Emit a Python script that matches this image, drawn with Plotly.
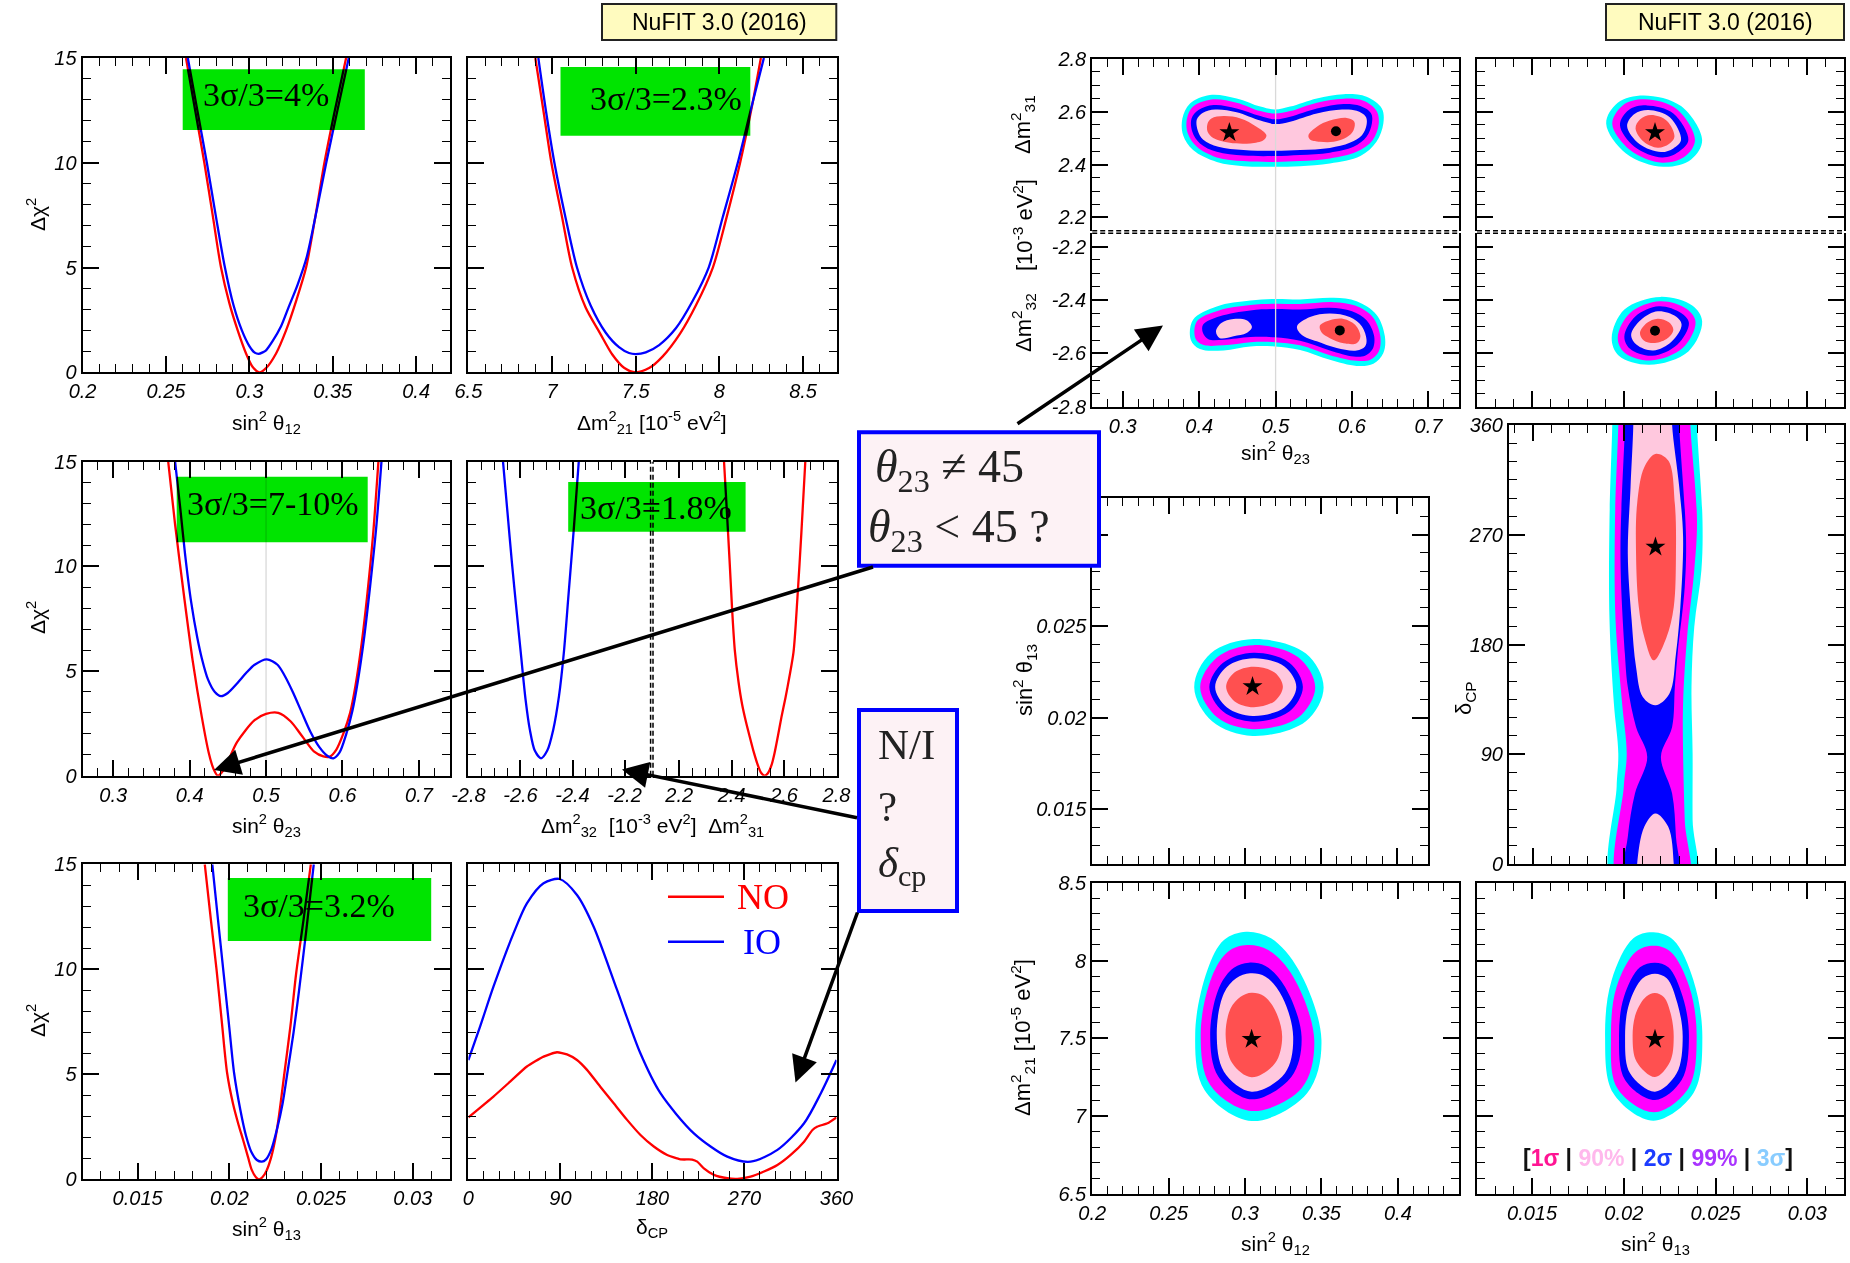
import plotly.graph_objects as go

W, H = 1850, 1263

# ---------------- 1-D chi^2 profiles (NO = red, IO = blue) ----------------
s12_no_x = [0.262,0.2675,0.273,0.278,0.283,0.288,0.293,0.298,0.302,0.306,0.310,0.316,0.322,0.328,0.334,0.3395,0.345,0.351,0.358]
s12_no_y = [15,12.5,10,7.5,5,3.3,2,0.9,0.25,0,0.2,0.9,2,3.4,5,7.4,10,12.4,15]
s12_io_x = [0.2631,0.2688,0.2745,0.2798,0.2851,0.2905,0.2955,0.300,0.303,0.3055,0.308,0.310,0.314,0.319,0.3235,0.329,0.3344,0.3403,0.3461,0.3528,0.3596]
s12_io_y = [15,12.5,10,7.5,5.1,3.2,2.0,1.25,0.95,0.88,0.95,1.05,1.5,2.2,3.1,4.2,5.5,7.7,10,12.5,15]

dm21_no_x = [6.90,6.95,6.996,7.06,7.12,7.20,7.287,7.36,7.43,7.50,7.58,7.66,7.766,7.86,7.961,8.04,8.124,8.19,8.248]
dm21_no_y = [15,12.4,10,7.4,5,3.1,1.86,0.85,0.22,0,0.2,0.75,1.86,3.2,5,7.3,10,12.5,15]
dm21_io_x = [6.918,6.965,7.014,7.08,7.149,7.23,7.32,7.40,7.46,7.50,7.56,7.64,7.74,7.84,7.936,8.02,8.110,8.19,8.266]
dm21_io_y = [15,12.4,10,7.4,5,3.2,1.9,1.2,0.92,0.87,0.95,1.3,2.1,3.4,5,7.4,10,12.6,15]

s23_no_x = [0.372,0.381,0.393,0.404,0.416,0.425,0.431,0.437,0.444,0.451,0.462,0.485,0.500,0.516,0.532,0.547,0.563,0.575,0.583,0.592,0.601,0.610,0.617,0.625,0.632,0.640,0.647]
s23_no_y = [15,12,8.5,5.5,2.8,1.1,0.35,0,0.25,0.75,1.6,2.65,2.95,3.0,2.6,1.9,1.15,0.92,0.9,1.25,2.0,3.0,4.3,6.3,8.5,11.5,15]
s23_io_x = [0.381,0.388,0.394,0.402,0.410,0.416,0.424,0.433,0.441,0.450,0.462,0.475,0.485,0.501,0.515,0.524,0.535,0.547,0.558,0.570,0.580,0.588,0.596,0.605,0.613,0.620,0.628,0.636,0.644,0.651]
s23_io_y = [15,12.7,10.6,8.3,6.6,5.6,4.6,4.0,3.8,3.95,4.4,4.95,5.3,5.56,5.3,4.8,4.0,3.0,2.1,1.35,0.95,0.83,1.1,2.0,3.1,4.5,6.5,9,11.8,15]

dm32_io_x = [-2.667,-2.65,-2.633,-2.615,-2.5985,-2.58,-2.564,-2.545,-2.521,-2.497,-2.474,-2.452,-2.4336,-2.415,-2.395,-2.376]
dm32_io_y = [15,12.6,10.2,7.9,5.84,3.6,2.2,1.2,0.83,1.2,2.2,3.8,5.84,8.7,11.8,15]
dm31_no_x = [2.371,2.381,2.392,2.402,2.412,2.426,2.44,2.455,2.469,2.485,2.50,2.513,2.526,2.539,2.552,2.564,2.576,2.59,2.605,2.62,2.636,2.651,2.666,2.681]
dm31_no_y = [15,12.8,10.3,7.9,6.0,4.5,3.4,2.55,1.86,1.1,0.5,0.13,0,0.13,0.5,1.1,1.86,2.8,3.7,4.7,5.9,8.5,11.6,15]

s13_no_x = [0.01866,0.0190,0.0193,0.0196,0.01988,0.0202,0.0205,0.02075,0.02101,0.02122,0.02145,0.02161,0.02180,0.02202,0.02229,0.02250,0.0227,0.0230,0.02333,0.02364,0.02405,0.02444]
s13_no_y = [15,12.3,10.0,7.4,5.05,3.6,2.6,1.87,1.08,0.45,0.1,0,0.1,0.4,1.08,1.9,3.0,5.05,7.3,9.8,12.4,15]
s13_io_x = [0.01907,0.0194,0.0197,0.0200,0.02026,0.0206,0.0209,0.0212,0.0215,0.02177,0.0220,0.0223,0.0226,0.0229,0.02316,0.0235,0.0238,0.0242,0.0246]
s13_io_y = [15,12.2,9.7,7.2,5.05,3.3,2.1,1.3,0.92,0.84,0.95,1.45,2.4,3.6,5.05,7.0,9.0,11.9,15]

dcp_no_x = [0,24.5,40.8,57.2,73.5,86.6,96.4,106.2,116,129,142.1,155.2,168.3,181.3,194.4,207.4,218.9,223.8,230.3,240.1,253.2,263,276,289.1,302.2,315.2,328.3,336.5,341.4,351.2,360]
dcp_no_y = [2.95,3.94,4.65,5.37,5.84,6.05,5.95,5.68,5.21,4.41,3.62,2.83,2.11,1.56,1.16,0.95,0.94,0.84,0.52,0.21,0.05,0.02,0.13,0.37,0.68,1.16,1.79,2.35,2.51,2.67,2.95]
dcp_io_x = [0,11.4,24.5,44.1,57.2,73.5,89.2,106.2,122.5,145.4,168.2,187.8,220.5,253.2,276,302.2,328.3,344.7,360]
dcp_io_y = [5.68,7.27,9.17,11.71,13.14,14.1,14.3,13.54,12.03,9.02,6.0,4.1,2.19,1.08,0.84,1.4,2.67,4.1,5.68]

# ---------------- 2-D allowed regions (outline points, outer -> inner) ----------------
# sin^2 th23 vs dm31 (NO)
t23no_3s = ([0.378,0.388,0.414,0.449,0.480,0.499,0.519,0.554,0.589,0.619,0.639,0.641,0.632,0.611,0.571,0.532,0.499,0.458,0.423,0.392,0.379],
            [2.574,2.631,2.663,2.650,2.619,2.608,2.619,2.650,2.666,2.656,2.612,2.555,2.486,2.432,2.404,2.394,2.392,2.394,2.410,2.455,2.511])
t23no_99 = ([0.384,0.392,0.416,0.449,0.480,0.499,0.519,0.554,0.589,0.615,0.632,0.635,0.627,0.606,0.571,0.532,0.499,0.458,0.423,0.397,0.385],
            [2.574,2.619,2.646,2.634,2.602,2.593,2.602,2.634,2.649,2.641,2.603,2.555,2.492,2.448,2.423,2.413,2.410,2.413,2.427,2.467,2.518])
t23no_2s = ([0.390,0.399,0.419,0.449,0.480,0.499,0.519,0.554,0.589,0.611,0.625,0.626,0.619,0.602,0.571,0.532,0.499,0.458,0.423,0.401,0.391],
            [2.574,2.606,2.625,2.612,2.583,2.571,2.581,2.612,2.629,2.621,2.593,2.555,2.505,2.467,2.445,2.436,2.432,2.434,2.448,2.480,2.524])
t23no_90 = ([0.397,0.405,0.421,0.449,0.480,0.499,0.519,0.554,0.587,0.606,0.618,0.619,0.613,0.597,0.571,0.532,0.499,0.458,0.425,0.405,0.398],
            [2.571,2.596,2.608,2.598,2.566,2.553,2.562,2.593,2.608,2.603,2.581,2.549,2.511,2.482,2.463,2.455,2.452,2.455,2.467,2.495,2.530])
t23no_1sa = ([0.411,0.416,0.432,0.454,0.475,0.488,0.484,0.467,0.440,0.419,0.411],
             [2.555,2.574,2.583,2.574,2.543,2.511,2.492,2.480,2.482,2.499,2.524])
t23no_1sb = ([0.543,0.554,0.571,0.593,0.603,0.602,0.593,0.576,0.558,0.545],
             [2.511,2.543,2.566,2.576,2.562,2.530,2.503,2.486,2.486,2.495])
# sin^2 th23 vs dm32 (IO)
t23io_3s = ([0.389,0.392,0.423,0.467,0.499,0.532,0.576,0.606,0.632,0.643,0.641,0.628,0.606,0.571,0.532,0.499,0.467,0.432,0.401],
            [-2.549,-2.474,-2.424,-2.402,-2.396,-2.398,-2.392,-2.405,-2.455,-2.536,-2.599,-2.639,-2.647,-2.624,-2.587,-2.574,-2.574,-2.589,-2.584])
t23io_99 = ([0.395,0.397,0.425,0.467,0.499,0.532,0.576,0.604,0.627,0.637,0.635,0.624,0.606,0.571,0.532,0.499,0.467,0.432,0.405],
            [-2.543,-2.480,-2.440,-2.419,-2.414,-2.415,-2.408,-2.421,-2.464,-2.536,-2.593,-2.624,-2.628,-2.607,-2.570,-2.558,-2.558,-2.570,-2.568])
t23io_2s = ([0.405,0.405,0.427,0.467,0.499,0.532,0.571,0.600,0.619,0.629,0.627,0.617,0.602,0.571,0.532,0.499,0.467,0.432,0.412],
            [-2.524,-2.493,-2.461,-2.439,-2.434,-2.436,-2.429,-2.442,-2.476,-2.536,-2.584,-2.609,-2.612,-2.589,-2.553,-2.540,-2.539,-2.549,-2.547])
t23io_90a = ([0.422,0.429,0.445,0.462,0.469,0.462,0.445,0.427],
             [-2.518,-2.486,-2.471,-2.476,-2.501,-2.524,-2.536,-2.543])
t23io_90b = ([0.528,0.545,0.571,0.597,0.613,0.619,0.617,0.606,0.580,0.554,0.534],
             [-2.499,-2.464,-2.451,-2.464,-2.499,-2.549,-2.574,-2.589,-2.580,-2.555,-2.530])
t23io_1s = ([0.558,0.571,0.589,0.604,0.611,0.606,0.589,0.571,0.560],
            [-2.496,-2.476,-2.471,-2.493,-2.536,-2.562,-2.562,-2.543,-2.521])
# sin^2 th13 vs dm31 (NO)
t13no_3s = ([0.01904,0.01967,0.02109,0.02312,0.02427,0.02367,0.02215,0.02012], [2.5554,2.6337,2.6614,2.6210,2.4924,2.4193,2.3915,2.4420])
t13no_99 = ([0.01937,0.01994,0.02115,0.02291,0.02388,0.02336,0.02209,0.02034], [2.5529,2.6236,2.6463,2.6084,2.4924,2.4319,2.4066,2.4546])
t13no_2s = ([0.01979,0.02027,0.02125,0.02270,0.02352,0.02300,0.02209,0.02058], [2.5491,2.6059,2.6236,2.5933,2.4924,2.4483,2.4268,2.4672])
t13no_90 = ([0.02018,0.02058,0.02134,0.02252,0.02312,0.02270,0.02203,0.02085], [2.5454,2.5908,2.6059,2.5782,2.4924,2.4609,2.4470,2.4773])
t13no_1s = ([0.02064,0.02088,0.02149,0.02234,0.02276,0.02246,0.02185,0.02109], [2.5365,2.5706,2.5870,2.5656,2.5050,2.4773,2.4634,2.4861])
# sin^2 th13 vs dm32 (IO)
t13io_3s = ([0.01934,0.02003,0.02200,0.02373,0.02427,0.02352,0.02140,0.01973], [-2.5427,-2.4360,-2.3884,-2.4210,-2.4799,-2.5929,-2.6430,-2.6092])
t13io_99 = ([0.01967,0.02034,0.02197,0.02343,0.02391,0.02321,0.02146,0.02003], [-2.5402,-2.4486,-2.4047,-2.4335,-2.4824,-2.5803,-2.6267,-2.5966])
t13io_2s = ([0.02003,0.02064,0.02191,0.02312,0.02355,0.02291,0.02155,0.02034], [-2.5364,-2.4611,-2.4235,-2.4486,-2.4862,-2.5678,-2.6092,-2.5828])
t13io_90 = ([0.02040,0.02094,0.02185,0.02282,0.02315,0.02261,0.02161,0.02070], [-2.5301,-2.4737,-2.4423,-2.4611,-2.4925,-2.5552,-2.5891,-2.5678])
t13io_1s = ([0.02088,0.02125,0.02185,0.02246,0.02270,0.02240,0.02170,0.02109], [-2.5238,-2.4862,-2.4699,-2.4837,-2.5113,-2.5427,-2.5615,-2.5515])
# sin^2 th12 vs sin^2 th13
t12t13_3s = ([0.2668,0.2775,0.3057,0.3400,0.3516,0.3400,0.3050,0.2785], [0.02165,0.0235,0.02429,0.0235,0.02165,0.0198,0.0190,0.0198])
t12t13_99 = ([0.2707,0.2818,0.3057,0.3350,0.3461,0.3350,0.3052,0.2820], [0.02166,0.0233,0.02396,0.0233,0.02166,0.0200,0.01937,0.0200])
t12t13_2s = ([0.2767,0.2857,0.3057,0.3291,0.3380,0.3291,0.3052,0.2857], [0.02167,0.0230,0.02355,0.0230,0.02167,0.02033,0.01978,0.02033])
t12t13_90 = ([0.2805,0.2883,0.3057,0.3259,0.3337,0.3259,0.3052,0.2883], [0.02167,0.02279,0.02324,0.02279,0.02167,0.02055,0.02009,0.02055])
t12t13_1s = ([0.2877,0.2931,0.3057,0.3195,0.3249,0.3195,0.3055,0.2931], [0.02168,0.02246,0.02278,0.02246,0.02168,0.0209,0.02057,0.0209])
# sin^2 th13 vs delta_CP
cp_3s = ([0.01943,0.01958,0.01967,0.01943,0.01919,0.01919,0.01934,0.01934,0.02397,0.02397,0.02427,0.02421,0.02382,0.02367,0.02373,0.02373,0.02382],
         [-20,63.3,90.6,131.6,199.8,281.7,360,380,380,360,281.7,240.8,194.3,145.2,90.6,36,-20])
cp_99 = ([0.01973,0.01997,0.02013,0.01988,0.01952,0.01949,0.01967,0.01967,0.02361,0.02361,0.02397,0.02382,0.02343,0.02321,0.02321,0.02330,0.02343],
         [-20,63.3,90.6,131.6,199.8,281.7,360,380,380,360,281.7,240.8,186.2,131.6,90.6,36,-20])
cp_2s = ([0.02003,0.02019,0.02058,0.02125,0.02064,0.02019,0.02003,0.01979,0.02003,0.02003,0.02300,0.02300,0.02337,0.02330,0.02291,0.02276,0.02261,0.02200,0.02261,0.02282,0.02291],
         [-20,22.4,57.8,87.9,112.4,145.2,172.5,254.4,360,380,380,360,268.1,227.1,172.5,145.2,112.4,87.9,57.8,22.4,-20])
cp_90a = ([0.02170,0.02101,0.02064,0.02040,0.02019,0.02034,0.02049,0.02049,0.02261,0.02261,0.02300,0.02321,0.02306,0.02282,0.02246],
          [130.2,137,161.6,199.8,254.4,309,360,380,380,360,309,268.1,210.7,172.5,139.7])
cp_90b = ([0.02170,0.02240,0.02270,0.02270,0.02070,0.02070,0.02109], [41.5,30.5,0,-20,-20,0,30.5])
cp_1s = ([0.02161,0.02109,0.02079,0.02064,0.02070,0.02109,0.02170,0.02240,0.02276,0.02282,0.02270,0.02231],
         [167.0,186.2,210.7,254.4,295.4,325.4,336.3,330.8,295.4,254.4,210.7,186.2])
# sin^2 th12 vs dm21
t12m21_3s = ([0.2674,0.2754,0.2862,0.3007,0.3170,0.3351,0.3500,0.3406,0.3043,0.2735], [7.5321,7.9390,8.1317,8.1852,8.1424,7.9390,7.4893,7.1467,6.9690,7.1681])
t12m21_99 = ([0.2710,0.2783,0.2888,0.3014,0.3152,0.3315,0.3453,0.3370,0.3043,0.2772], [7.5321,7.8962,8.0567,8.0996,8.0675,7.8962,7.4893,7.1788,7.0332,7.2003])
t12m21_2s = ([0.2772,0.2833,0.2927,0.3025,0.3134,0.3261,0.3370,0.3304,0.3043,0.2826], [7.5321,7.8319,7.9540,7.9861,7.9647,7.8319,7.5107,7.2538,7.1082,7.2538])
t12m21_90 = ([0.2815,0.2862,0.2942,0.3033,0.3134,0.3243,0.3315,0.3261,0.3043,0.2862], [7.5321,7.7891,7.8854,7.9176,7.8962,7.7677,7.5107,7.2752,7.1574,7.2859])
t12m21_1s = ([0.2873,0.2906,0.2971,0.3043,0.3123,0.3196,0.3243,0.3196,0.3043,0.2917], [7.5214,7.6927,7.7677,7.7934,7.7720,7.6820,7.5107,7.3394,7.2495,7.3394])
# sin^2 th13 vs dm21
t13m21_3s = ([0.01898,0.01934,0.02052,0.02161,0.02270,0.02379,0.02428,0.02379,0.02161,0.01943], [7.5108,7.8748,8.1425,8.1811,8.1318,7.8748,7.5108,7.1467,6.9711,7.1467])
t13m21_99 = ([0.01930,0.01961,0.02066,0.02165,0.02255,0.02357,0.02397,0.02352,0.02165,0.01965], [7.5108,7.8320,8.0569,8.0954,8.0569,7.8320,7.5108,7.1788,7.0246,7.1788])
t13m21_2s = ([0.01974,0.02001,0.02088,0.02170,0.02243,0.02321,0.02355,0.02315,0.02170,0.02007], [7.5108,7.7677,7.9562,7.9862,7.9562,7.7677,7.5108,7.2324,7.1039,7.2324])
t13m21_90 = ([0.02007,0.02030,0.02103,0.02170,0.02234,0.02292,0.02321,0.02288,0.02170,0.02034], [7.5108,7.7249,7.8855,7.9155,7.8855,7.7249,7.5108,7.2752,7.1574,7.2752])
t13m21_1s = ([0.02048,0.02066,0.02121,0.02170,0.02219,0.02255,0.02272,0.02252,0.02170,0.02070], [7.5108,7.6607,7.7677,7.7913,7.7635,7.6607,7.5108,7.3501,7.2516,7.3501])

# best-fit points
bf_star = {"t23no": (0.4395, 2.521), "t13no": (0.0217, 2.5215), "t12t13": (0.305, 0.0217),
           "cp": (0.0217, 260), "t12m21": (0.3043, 7.494), "t13m21": (0.0217, 7.494)}
bf_dot = {"t23io": (0.584, -2.514), "t23no": (0.579, 2.526), "t13io": (0.0217, -2.515)}

# ---------------- tick values / labels ----------------
tk_chi = [0, 5, 10, 15]
tk_s12 = [0.2, 0.25, 0.3, 0.35, 0.4]
tk_m21 = [6.5, 7, 7.5, 8, 8.5]
tk_s23 = [0.3, 0.4, 0.5, 0.6, 0.7]
tk_m32 = [-2.8, -2.6, -2.4, -2.2]
tk_m31 = [2.2, 2.4, 2.6, 2.8]
tk_s13 = [0.015, 0.02, 0.025, 0.03]
tk_cp = [0, 90, 180, 270, 360]
lbl = lambda v: [("%g" % t) for t in v]

# ---------------- colours ----------------
C3S, C99, C2S, C90, C1S = "#00ffff", "#ff00ff", "#0000ff", "#ffc8de", "#ff5050"
RED, BLUE = "#ff0000", "#0000ff"
GREEN = "#00e400"
SANS = "Liberation Sans, Arial, Helvetica, sans-serif"
SERIF = "Liberation Serif, Times New Roman, serif"

def xp(X):
    return X / W

def yp(Y):
    return 1 - Y / H

fig = go.Figure()
axes_layout = {}
counter = [0]

def make_axes(X0, X1, Y0, Y1, xr, yr, xtv, xmn, ytv, ymn, xlab, ylab, xmode="both", ymode="both"):
    counter[0] += 1
    i = counter[0]
    sfx = "" if i == 1 else str(i)
    common = dict(ticks="inside", ticklen=16, tickwidth=1.8, tickcolor="black", showline=True,
                  linewidth=2, linecolor="black", showgrid=False, zeroline=False, automargin=False,
                  tickfont=dict(family=SANS, size=20, color="black", style="italic"),
                  tickmode="array")
    mn = dict(ticks="inside", ticklen=8, tickwidth=1.3, tickcolor="black", showgrid=False, tickmode="linear", tick0=0)
    xa = dict(common, domain=[xp(X0), xp(X1)], range=xr, anchor="y" + sfx, showticklabels=xlab,
              tickvals=xtv, ticktext=lbl(xtv), minor=dict(mn, dtick=xmn))
    if xmode == "both":
        xa.update(mirror="ticks", side="bottom")
    elif xmode == "top":
        xa.update(mirror=False, side="top")
    else:
        xa.update(mirror=False, side="bottom")
    ya = dict(common, domain=[yp(Y1), yp(Y0)], range=yr, anchor="x" + sfx, showticklabels=ylab,
              tickvals=ytv, ticktext=lbl(ytv), minor=dict(mn, dtick=ymn))
    if ymode == "both":
        ya.update(mirror="ticks", side="left")
    elif ymode == "left":
        ya.update(mirror=False, side="left")
    else:
        ya.update(mirror=False, side="right")
    axes_layout["xaxis" + sfx] = xa
    axes_layout["yaxis" + sfx] = ya
    return ("x" + sfx, "y" + sfx)

def curve(ax, x, y, color, sm=0.8):
    fig.add_trace(go.Scatter(x=x, y=y, xaxis=ax[0], yaxis=ax[1], mode="lines",
                             line=dict(color=color, width=2.3, shape="spline", smoothing=sm),
                             hoverinfo="skip", showlegend=False))

def region(ax, reg, color):
    xs, ys = reg
    fig.add_trace(go.Scatter(x=list(xs) + [xs[0]], y=list(ys) + [ys[0]], xaxis=ax[0], yaxis=ax[1],
                             mode="lines", fill="toself", fillcolor=color,
                             line=dict(width=0, color=color, shape="spline", smoothing=1.0),
                             hoverinfo="skip", showlegend=False))

def marker(ax, pt, sym, size):
    fig.add_trace(go.Scatter(x=[pt[0]], y=[pt[1]], xaxis=ax[0], yaxis=ax[1], mode="markers",
                             marker=dict(symbol=sym, size=size, color="black"),
                             hoverinfo="skip", showlegend=False))

def vline(ax, x, y0, y1):
    fig.add_trace(go.Scatter(x=[x, x], y=[y0, y1], xaxis=ax[0], yaxis=ax[1], mode="lines",
                             line=dict(color="#d9d9d9", width=1.3), hoverinfo="skip", showlegend=False))

shapes = []
annots = []

def box(X0, Y0, X1, Y1, fill, lc=None, lw=0, layer="above"):
    shapes.append(dict(type="rect", xref="paper", yref="paper", x0=xp(X0), x1=xp(X1), y0=yp(Y1), y1=yp(Y0),
                       fillcolor=fill, line=dict(color=lc or fill, width=lw), layer=layer))

def text(X, Y, t, size=21, family=SANS, color="black", angle=0, xanchor="center", yanchor="middle"):
    annots.append(dict(xref="paper", yref="paper", x=xp(X), y=yp(Y), text=t, showarrow=False,
                       textangle=angle, xanchor=xanchor, yanchor=yanchor,
                       font=dict(family=family, size=size, color=color)))

# ---------------- green boxes (blended over the curves) ----------------
for (X0, Y0, X1, Y1) in [(182.7, 69.3, 364.8, 130), (560.5, 67, 750.3, 135.7), (176.7, 476.7, 367.7, 542.3),
                         (568.2, 482, 745.6, 531.7), (227.8, 878, 431.2, 941)]:
    box(X0, Y0, X1, Y1, GREEN, layer="above")

# ---------------- left column: 1-D profiles ----------------
axA = make_axes(82.6, 449.5, 58, 372.3, [0.2, 0.42], [0, 15], tk_s12, 0.01, tk_chi, 1, True, True)
curve(axA, s12_no_x, s12_no_y, RED); curve(axA, s12_io_x, s12_io_y, BLUE)

axB = make_axes(468.4, 836.5, 58, 372.3, [6.5, 8.7], [0, 15], tk_m21, 0.1, tk_chi, 1, True, False)
curve(axB, dm21_no_x, dm21_no_y, RED); curve(axB, dm21_io_x, dm21_io_y, BLUE)

axC = make_axes(82.6, 449.5, 461.7, 775.7, [0.26, 0.74], [0, 15], tk_s23, 0.02, tk_chi, 1, True, True)
vline(axC, 0.5, 0, 15)
curve(axC, s23_no_x, s23_no_y, RED); curve(axC, s23_io_x, s23_io_y, BLUE)

axDl = make_axes(468.4, 650.6, 461.7, 775.7, [-2.8, -2.1], [0, 15], tk_m32, 0.05, tk_chi, 1, True, False, "both", "left")
curve(axDl, dm32_io_x, dm32_io_y, BLUE)
axDr = make_axes(653.0, 836.5, 461.7, 775.7, [2.1, 2.8], [0, 15], tk_m31, 0.05, tk_chi, 1, True, False, "both", "right")
curve(axDr, dm31_no_x, dm31_no_y, RED)

axE = make_axes(82.6, 449.5, 864.3, 1179.3, [0.012, 0.032], [0, 15], tk_s13, 0.001, tk_chi, 1, True, True)
curve(axE, s13_no_x, s13_no_y, RED); curve(axE, s13_io_x, s13_io_y, BLUE)

axF = make_axes(468.4, 836.5, 864.3, 1179.3, [0, 360], [0, 15], tk_cp, 15, tk_chi, 1, True, False)
curve(axF, dcp_no_x, dcp_no_y, RED, 0.5); curve(axF, dcp_io_x, dcp_io_y, BLUE)

# ---------------- right block: 2-D regions ----------------
axTLu = make_axes(1092.2, 1459, 58.7, 230.7, [0.26, 0.74], [2.15, 2.8], tk_s23, 0.02, tk_m31, 0.05, False, True, "top", "both")
for reg, c in [(t23no_3s, C3S), (t23no_99, C99), (t23no_2s, C2S), (t23no_90, C90), (t23no_1sa, C1S), (t23no_1sb, C1S)]:
    region(axTLu, reg, c)
vline(axTLu, 0.5, 2.15, 2.8)
marker(axTLu, bf_star["t23no"], "star", 15); marker(axTLu, bf_dot["t23no"], "circle", 10)

axTLl = make_axes(1092.2, 1459, 233.3, 406.7, [0.26, 0.74], [-2.8, -2.15], tk_s23, 0.02, tk_m32, 0.05, True, True, "bottom", "both")
for reg, c in [(t23io_3s, C3S), (t23io_99, C99), (t23io_2s, C2S), (t23io_90a, C90), (t23io_90b, C90), (t23io_1s, C1S)]:
    region(axTLl, reg, c)
vline(axTLl, 0.5, -2.8, -2.15)
marker(axTLl, bf_dot["t23io"], "circle", 10)

axTRu = make_axes(1477, 1844, 58.7, 230.7, [0.012, 0.032], [2.15, 2.8], tk_s13, 0.001, tk_m31, 0.05, False, False, "top", "both")
for reg, c in [(t13no_3s, C3S), (t13no_99, C99), (t13no_2s, C2S), (t13no_90, C90), (t13no_1s, C1S)]:
    region(axTRu, reg, c)
marker(axTRu, bf_star["t13no"], "star", 15)

axTRl = make_axes(1477, 1844, 233.3, 406.7, [0.012, 0.032], [-2.8, -2.15], tk_s13, 0.001, tk_m32, 0.05, False, False, "bottom", "both")
for reg, c in [(t13io_3s, C3S), (t13io_99, C99), (t13io_2s, C2S), (t13io_90, C90), (t13io_1s, C1S)]:
    region(axTRl, reg, c)
marker(axTRl, bf_dot["t13io"], "circle", 10)

axM = make_axes(1092.3, 1428, 498, 864, [0.2, 0.42], [0.012, 0.032], tk_s12, 0.01, tk_s13, 0.001, False, True)
for reg, c in [(t12t13_3s, C3S), (t12t13_99, C99), (t12t13_2s, C2S), (t12t13_90, C90), (t12t13_1s, C1S)]:
    region(axM, reg, c)
marker(axM, bf_star["t12t13"], "star", 15)

axCP = make_axes(1509, 1844, 425, 864, [0.0137, 0.032], [0, 360], tk_s13, 0.001, tk_cp, 15, False, True)
for reg, c in [(cp_3s, C3S), (cp_99, C99), (cp_2s, C2S), (cp_90a, C90), (cp_90b, C90), (cp_1s, C1S)]:
    region(axCP, reg, c)
marker(axCP, bf_star["cp"], "star", 15)

axBL = make_axes(1092.2, 1459, 882.7, 1194, [0.2, 0.44], [6.5, 8.5], tk_s12, 0.01, tk_m21, 0.1, True, True)
for reg, c in [(t12m21_3s, C3S), (t12m21_99, C99), (t12m21_2s, C2S), (t12m21_90, C90), (t12m21_1s, C1S)]:
    region(axBL, reg, c)
marker(axBL, bf_star["t12m21"], "star", 15)

axBR = make_axes(1477, 1844, 882.7, 1194, [0.012, 0.032], [6.5, 8.5], tk_s13, 0.001, tk_m21, 0.1, True, False)
for reg, c in [(t13m21_3s, C3S), (t13m21_99, C99), (t13m21_2s, C2S), (t13m21_90, C90), (t13m21_1s, C1S)]:
    region(axBR, reg, c)
marker(axBR, bf_star["t13m21"], "star", 15)

# ---------------- dashed split lines ----------------
for X in (650.6, 653.0):
    shapes.append(dict(type="line", xref="paper", yref="paper", x0=xp(X), x1=xp(X), y0=yp(775.7), y1=yp(461.7),
                       line=dict(color="black", width=1.5, dash="5px,3px"), layer="above"))
for (X0, X1) in [(1092.2, 1459), (1477, 1844)]:
    for Y in (230.7, 233.3):
        shapes.append(dict(type="line", xref="paper", yref="paper", x0=xp(X0), x1=xp(X1), y0=yp(Y), y1=yp(Y),
                           line=dict(color="black", width=1.5, dash="5px,3px"), layer="above"))

# ---------------- green-box texts ----------------
for (X, Y, t) in [(265.7, 95, "3σ/3=4%"), (665.7, 98, "3σ/3=2.3%"), (273, 503, "3σ/3=7-10%"),
                  (656, 508, "3σ/3=1.8%"), (318.6, 906, "3σ/3=3.2%")]:
    text(X, Y, t, size=34, family=SERIF)

# ---------------- NuFIT labels ----------------
for (X0, X1) in [(602, 836.3), (1606, 1844)]:
    box(X0, 4, X1, 40, "#fffbbf", "#222222", 2)
    text((X0 + X1) / 2, 22.5, "NuFIT 3.0 (2016)", size=23)

# ---------------- axis titles ----------------
S2 = "sin<sup>2</sup> θ<sub>%s</sub>"
text(266, 422, S2 % "12"); text(652, 422, "Δm<sup>2</sup><sub>21</sub> [10<sup>-5</sup> eV<sup>2</sup>]")
text(266, 825, S2 % "23"); text(652, 825, "Δm<sup>2</sup><sub>32</sub>  [10<sup>-3</sup> eV<sup>2</sup>]  Δm<sup>2</sup><sub>31</sub>")
text(266, 1228, S2 % "13"); text(652, 1228, "δ<sub>CP</sub>")
for Y in (215, 618, 1021):
    text(36, Y, "Δχ<sup>2</sup>", angle=-90)
text(1275, 453, S2 % "23")
text(1023, 125, "Δm<sup>2</sup><sub>31</sub>", size=22, angle=-90)
text(1023, 225, "[10<sup>-3</sup> eV<sup>2</sup>]", size=22, angle=-90)
text(1023, 323, "Δm<sup>2</sup><sub>32</sub>", size=22, angle=-90)
text(1024, 680, S2 % "13", size=22, angle=-90)
text(1465, 698, "δ<sub>CP</sub>", size=22, angle=-90)
text(1022, 1038, "Δm<sup>2</sup><sub>21</sub> [10<sup>-5</sup> eV<sup>2</sup>]", size=22, angle=-90)
text(1275, 1243, S2 % "12"); text(1655, 1243, S2 % "13")

# ---------------- NO / IO legend ----------------
for (Y, c, t, X) in [(896.7, RED, "NO", 735), (941.7, BLUE, "IO", 741)]:
    shapes.append(dict(type="line", xref="paper", yref="paper", x0=xp(668), x1=xp(724), y0=yp(Y), y1=yp(Y),
                       line=dict(color=c, width=2.5), layer="above"))
    text(X, Y, t, size=36, family=SERIF, color=c, xanchor="left")

# ---------------- contour-level legend ----------------
text(1658, 1158, "<b>[<span style='color:#ff1493'>1σ</span> | <span style='color:#ffb8ec'>90%</span> | "
     "<span style='color:#1c3cff'>2σ</span> | <span style='color:#a933ff'>99%</span> | "
     "<span style='color:#88ccff'>3σ</span>]</b>", size=23, color="#111111")

# ---------------- question boxes ----------------
box(859, 432.3, 1099, 565.7, "#fdf2f5", "#0000ff", 4)
text(873, 470, "<i>θ</i><sub>23</sub> ≠ 45", size=46, family=SERIF, color="#222222", xanchor="left")
text(866, 530, "<i>θ</i><sub>23</sub> &lt; 45 ?", size=46, family=SERIF, color="#222222", xanchor="left")
box(859, 710, 957, 911, "#fdf2f5", "#0000ff", 4)
text(876, 744, "N/I", size=43, family=SERIF, color="#222222", xanchor="left")
text(876, 806, "?", size=43, family=SERIF, color="#222222", xanchor="left")
text(876, 866, "<i>δ</i><sub>cp</sub>", size=43, family=SERIF, color="#222222", xanchor="left")

# ---------------- arrows ----------------
for (hx, hy, tx, ty) in [(1163, 325.6, 1016, 424.7), (214, 770, 874.5, 566.5),
                         (622, 769.5, 858.5, 818), (795.5, 1082.5, 858, 911)]:
    annots.append(dict(xref="paper", yref="paper", x=xp(hx), y=yp(hy), ax=tx - hx, ay=ty - hy,
                       axref="pixel", ayref="pixel", text="", showarrow=True, arrowhead=2,
                       arrowsize=1.5, arrowwidth=3.5, arrowcolor="black", standoff=0, startstandoff=0))

fig.update_layout(width=W, height=H, margin=dict(l=0, r=0, t=0, b=0, pad=0, autoexpand=False),
                  paper_bgcolor="white", plot_bgcolor="white", showlegend=False,
                  shapes=shapes, annotations=annots, **axes_layout)

JS = ("document.body.style.margin='0px'; document.body.style.overflow='hidden';"
      "document.querySelectorAll('.shapelayer path').forEach(function(p){"
      "var f = (p.style.fill || '').replace(/ /g, '');"
      "if (f === 'rgb(0,228,0)') { p.style.mixBlendMode = 'multiply'; }"
      "});")
fig.write_html("out.html", config={"displayModeBar": False}, post_script=JS)
